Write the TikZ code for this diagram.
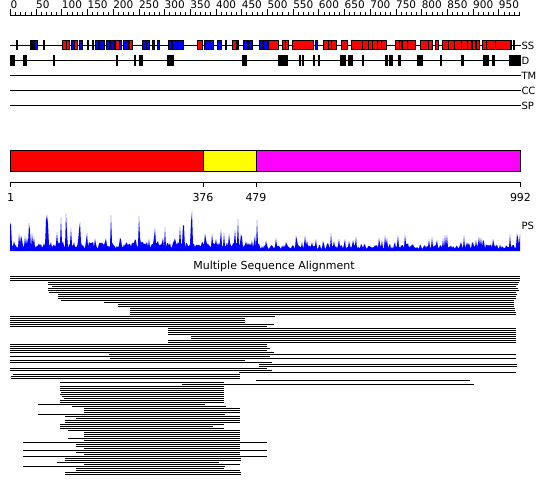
\documentclass[tikz,border=0pt]{standalone}
\usepackage{fontspec}
\setmainfont{DejaVu Sans}
\definecolor{pred}{RGB}{255,0,0}
\definecolor{pblue}{RGB}{0,0,255}
\definecolor{pyel}{RGB}{255,255,0}
\definecolor{pmag}{RGB}{255,0,255}
\begin{document}
\begin{tikzpicture}[x=1pt,y=-1pt,line width=1pt,
  lbl/.style={font=\fontsize{10}{12}\selectfont, inner sep=0pt},
  rlbl/.style={font=\fontsize{10.5}{12}\selectfont, inner sep=0pt},
  dlbl/.style={font=\fontsize{11}{13}\selectfont, inner sep=0pt},
  ssred/.style={fill=pred,draw=black},
  ssblue/.style={fill=pblue,draw=black},
  blk/.style={fill=black,draw=black},
  trk/.style={draw=black}]
\useasboundingbox[fill=white] (0,0) rectangle (550,495);
% ---- ruler
\draw (10,15.5) -- (520,15.5);
\foreach \pos in {0,10,...,990} { \draw (10.5+\pos*0.5141,15.5) -- (10.5+\pos*0.5141,12); }
\foreach \pos in {0,50,...,950} {
  \draw (10.5+\pos*0.5141,15.5) -- (10.5+\pos*0.5141,9.5);
  \node[rlbl,anchor=base west] at (10+\pos*0.5141,9) {\pos};
}
% ---- tracks
\foreach \yy/\tx in {45/SS,60/D,75/TM,90/CC,105/SP} {
  \draw[trk] (10,\yy+0.5) -- (521,\yy+0.5);
  \node[lbl,anchor=west] (t\tx) at (521,\yy+0.5) {\tx};
}
% SS boxes
\foreach \a/\b in {16/17.5,30/32,33/34,43/44.5,87/88,92/93,225/226,237/238,247/248,510/511,513/514} {
  \filldraw[blk] (\a,40.5) rectangle (\b,49.5);
}
\foreach \a/\b in {62/66,66/69,74/77,115/119,129/132,197/202,232/236,268/278,282/285,285/288,292/313,
  323/328,328/331,331/336,341/347,351/362,362/368,368/372,372/377,377/381,381/386,
  395/399,399/401,402/407,407/415,420/428,428/432,435/438,442/448,448/454,454/461,461/467,467/471,
  472/475,476/479,482/486,486/495,495/510} {
  \filldraw[ssred] (\a,40.5) rectangle (\b,49.5);
}
\foreach \a/\b in {34.5/37,71/74,79/82,95/98,99/104,106/109,110/114,119/121,123/128,142/146,146/149,
  152/154,157/159,168/171,172/177,177/183,204/213,217/221,243/247,249/252,259/262,263/268,315/317} {
  \filldraw[ssblue] (\a,40.5) rectangle (\b,49.5);
}
% D boxes
\foreach \a/\b in {10/14,23/26,53/54.5,116/117,134/135,139/142,167/168,169/173,242/246,278/287,
  299/300,302/303,313/314,318/319,340/345,348/352,362/363,385/387,389/392,398/400,417/422,440/441,
  461/463,483/488,492/494,509/520} {
  \filldraw[blk] (\a,55.5) rectangle (\b,65.5);
}
% ---- domain bar
\filldraw[fill=pred,draw=black] (10.5,150.5) rectangle (203,171.5);
\filldraw[fill=pyel,draw=black] (203,150.5) rectangle (256,171.5);
\filldraw[fill=pmag,draw=black] (256,150.5) rectangle (520.5,171.5);
\draw (10.5,182.5) -- (520.5,182.5);
\foreach \xx/\tx in {10.5/1,203/376,256/479,520.5/992} {
  \draw (\xx,182.5) -- (\xx,187.5);
  \node[dlbl] (d\tx) at (\xx,197) {\tx};
}
% ---- PS profile
\pgfmathsetseed{12}
\fill[pblue] (10,251) -- plot[samples=511,domain=10:520,variable=\t]
  (\t,{251-((\t<260) ? (3+6*rnd+33*rnd^9) : (2+4*rnd+16*rnd^9))}) -- (520,251) -- cycle;
\node[lbl,anchor=west] (ps) at (521,226) {PS};
% ---- alignment
\node[dlbl] (msa) at (274,266) {Multiple Sequence Alignment};
\foreach \yy/\a/\b in {276/10/520,278/10/520,280/10/520,282/48/519,284/48/518,286/52/516,288/48/518,
  290/48/519,292/49/516,294/58/517,296/58/516,298/58/516,300/61/514,302/104/514,304/118/514,306/118/514,
  308/130/515,310/130/515,312/130/516,314/130/516,316/10/275,318/10/245,320/10/245,322/10/245,324/10/274,
  326/10/267,328/168/516,330/168/516,332/168/516,334/168/516,336/191/516,338/191/516,340/168/516,342/168/516,
  344/10/267,346/10/267,348/10/270,350/10/267,352/10/274,354/109/516,356/10/270,358/110/516,360/10/245,
  362/10/272,364/259/517,366/259/517,368/10/267,370/10/272,372/239/516,374/13/240,376/11/240,378/11/240,
  380/256/470,382/60/224,384/182/474,386/60/224,388/60/224,390/60/224,392/61/224,394/60/224,396/62/224,
  398/64/224,400/60/224,402/60/224,404/38/205,406/72/226,408/84/240,410/84/240,412/84/240,414/38/225,
  416/65/240,418/76/240,420/65/240,422/65/240,424/60/224,426/60/213,428/60/224,430/68/240,432/84/240,
  434/84/240,436/84/240,438/68/240,440/84/240,442/23/267,444/76/240,446/76/240,448/84/240,450/23/267,
  452/76/240,454/84/240,456/23/267,458/65/241,460/65/241,462/57/219,464/84/240,466/23/225,468/76/224,
  470/76/240,472/65/241,474/65/241} {
  \draw (\a,\yy+0.5) -- (\b,\yy+0.5);
}
\end{tikzpicture}
\end{document}
